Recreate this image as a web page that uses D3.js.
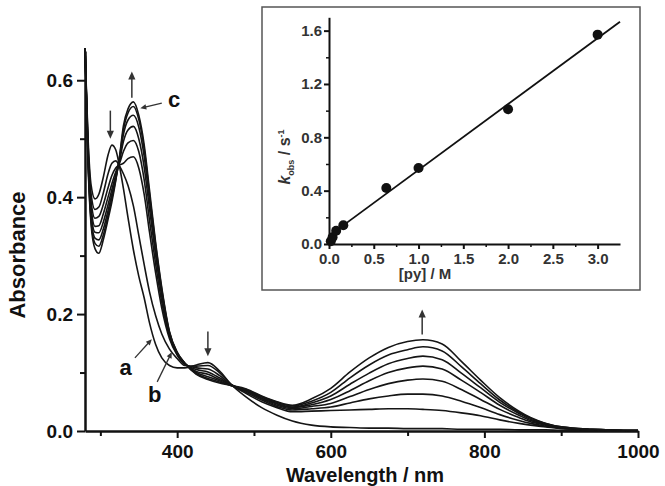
<!DOCTYPE html>
<html>
<head>
<meta charset="utf-8">
<script src="https://cdn.jsdelivr.net/npm/d3@7"></script>
<style>
  body { margin: 0; background: #fff; }
  svg text { font-family: "Liberation Sans", Arial, sans-serif; font-weight: bold; }
</style>
</head>
<body>
<div id="chart"></div>
<script>
// spectra: wavelength grid (nm) and absorbance of each trace, a -> c
const wavelengths = [280, 284, 288, 293, 298, 304, 310, 315, 320, 325, 330, 336, 343, 350, 357, 364, 372, 380, 390, 400,
  410, 425, 440, 455, 470, 490, 510, 530, 550, 575, 600, 625, 650, 675, 700, 720, 745, 770, 795, 820, 845, 860, 880, 900, 940, 1000];

const traceA = [.655, .50, .42, .397, .405, .435, .472, .489, .481, .452, .415, .365, .31, .265, .228, .185, .148, .125, .112, .108,
  .108, .113, .117, .103, .080, .058, .040, .027, .017, .010, .007, .006, .005, .005, .004, .004, .004, .003, .003, .003, .002, .002, .002, .001, .001, 0];
const traceB = [.655, .49, .405, .379, .383, .408, .440, .458, .462, .453, .44, .42, .385, .335, .285, .238, .197, .166, .140, .124,
  .112, .111, .112, .100, .080, .064, .050, .040, .033, .034, .035, .036, .037, .038, .038, .037, .035, .031, .026, .019, .013, .010, .007, .004, .002, 0];
const trace3 = [.655, .48, .392, .364, .367, .388, .416, .437, .450, .455, .458, .466, .469, .45, .405, .34, .27, .21, .158, .130,
  .114, .108, .106, .095, .079, .066, .053, .042, .036, .038, .041, .048, .055, .060, .063, .063, .060, .051, .040, .028, .018, .013, .008, .005, .002, 0];
const trace4 = [.655, .475, .382, .350, .351, .372, .400, .423, .443, .458, .478, .493, .497, .478, .43, .36, .285, .22, .162, .131,
  .115, .105, .101, .091, .079, .068, .055, .044, .038, .042, .047, .059, .071, .081, .087, .089, .085, .071, .054, .037, .023, .016, .010, .005, .002, 0];
const trace5 = [.655, .47, .373, .340, .339, .358, .387, .413, .438, .462, .495, .515, .521, .50, .452, .38, .30, .23, .165, .132,
  .115, .102, .097, .088, .079, .069, .056, .046, .040, .045, .054, .069, .086, .100, .108, .111, .106, .087, .066, .044, .027, .018, .011, .006, .002, 0];
const trace6 = [.655, .465, .365, .330, .327, .346, .377, .405, .433, .465, .507, .532, .540, .52, .47, .395, .31, .237, .167, .133,
  .116, .100, .093, .086, .078, .070, .058, .047, .041, .048, .060, .080, .099, .115, .124, .128, .122, .099, .074, .049, .030, .020, .012, .006, .003, .001];
const trace7 = [.655, .46, .358, .321, .316, .336, .369, .398, .430, .468, .515, .544, .555, .533, .483, .405, .318, .242, .169, .134,
  .116, .098, .090, .084, .078, .071, .059, .049, .043, .051, .066, .091, .113, .130, .139, .144, .137, .110, .081, .053, .032, .022, .013, .007, .003, .001];
const traceC = [.655, .455, .352, .312, .304, .328, .362, .392, .428, .470, .522, .551, .563, .54, .49, .412, .322, .245, .170, .135,
  .116, .097, .088, .082, .078, .072, .060, .050, .044, .055, .073, .101, .125, .143, .153, .156, .149, .119, .087, .057, .034, .023, .013, .007, .003, .001];
const traces = [traceA, traceB, trace3, trace4, trace5, trace6, trace7, traceC];

const xMajor = [400, 600, 800, 1000];
const xMinor = [300, 500, 700, 900];
const yMajor = [0, 0.2, 0.4, 0.6];
const yMinor = [0.1, 0.3, 0.5];

// inset: kobs vs [py]
const pyConc = [0.02, 0.04, 0.08, 0.16, 0.64, 1.0, 2.0, 3.0];
const kObs = [0.02, 0.05, 0.10, 0.14, 0.42, 0.57, 1.01, 1.57];
const fitSlope = 0.494;
const fitIntercept = 0.061;
const insetXMajor = [0, 0.5, 1.0, 1.5, 2.0, 2.5, 3.0];
const insetXMinor = [0.25, 0.75, 1.25, 1.75, 2.25, 2.75];
const insetYMajor = [0, 0.4, 0.8, 1.2, 1.6];
const insetYMinor = [0.2, 0.6, 1.0, 1.4];

// arrows [wavelength, from, to] and labels
const arrows = [[313, 0.548, 0.500], [341, 0.570, 0.615], [440, 0.170, 0.128], [719, 0.165, 0.208]];
const pointers = [
  { text: "c", tx: 388, ty: 0.554, from: [380, 0.561], to: [352, 0.552] },
  { text: "a", tx: 325, ty: 0.096, from: [345, 0.125], to: [367, 0.157] },
  { text: "b", tx: 362, ty: 0.050, from: [374, 0.084], to: [393, 0.135] }
];

const W = 665, H = 486;
const svg = d3.select("#chart").append("svg")
  .attr("width", W).attr("height", H);

const x = d3.scaleLinear().domain([280, 1000]).range([85, 638]);
const y = d3.scaleLinear().domain([0, 0.65]).range([431, 51]);

function styleAxis(g, fs) {
  g.select(".domain").attr("stroke", "#111").attr("stroke-width", 2.5);
  g.selectAll(".tick line").attr("stroke", "#111").attr("stroke-width", 2);
  g.selectAll(".tick text").attr("fill", "#111").style("font-size", fs + "px");
}

// main axes
svg.append("g").attr("transform", "translate(0,431)")
  .call(d3.axisBottom(x).tickValues(xMinor).tickFormat("").tickSize(5).tickSizeOuter(0))
  .call(g => { styleAxis(g, 19); g.select(".domain").remove(); });
svg.append("g").attr("transform", "translate(85,0)")
  .call(d3.axisLeft(y).tickValues(yMinor).tickFormat("").tickSize(5).tickSizeOuter(0))
  .call(g => { styleAxis(g, 19); g.select(".domain").remove(); });
svg.append("g").attr("transform", "translate(0,431)")
  .call(d3.axisBottom(x).tickValues(xMajor).tickFormat(d3.format("d")).tickSize(7).tickPadding(7).tickSizeOuter(0))
  .call(g => styleAxis(g, 19));
svg.append("g").attr("transform", "translate(85,0)")
  .call(d3.axisLeft(y).tickValues(yMajor).tickFormat(d3.format(".1f")).tickSize(8).tickPadding(4).tickSizeOuter(0))
  .call(g => styleAxis(g, 19));

svg.append("text")
  .attr("transform", "translate(25,255) rotate(-90)")
  .attr("text-anchor", "middle").style("font-size", "22px").attr("fill", "#111")
  .text("Absorbance");
svg.append("text")
  .attr("x", 365).attr("y", 482)
  .attr("text-anchor", "middle").style("font-size", "20px").attr("fill", "#111")
  .text("Wavelength / nm");

// spectra
const line = d3.line()
  .x((d, i) => x(wavelengths[i]))
  .y(d => y(d))
  .curve(d3.curveMonotoneX);

svg.append("g").selectAll("path")
  .data(traces)
  .join("path")
  .attr("d", line)
  .attr("fill", "none")
  .attr("stroke", "#151515")
  .attr("stroke-width", 1.6);

// arrows
function arrow(x1, y1, x2, y2, head, color, w) {
  const ang = Math.atan2(y2 - y1, x2 - x1);
  svg.append("line")
    .attr("x1", x1).attr("y1", y1)
    .attr("x2", x2 - Math.cos(ang) * head * 0.8).attr("y2", y2 - Math.sin(ang) * head * 0.8)
    .attr("stroke", color).attr("stroke-width", w);
  const p = [
    [x2, y2],
    [x2 - head * Math.cos(ang) + head * 0.45 * Math.sin(ang), y2 - head * Math.sin(ang) - head * 0.45 * Math.cos(ang)],
    [x2 - head * Math.cos(ang) - head * 0.45 * Math.sin(ang), y2 - head * Math.sin(ang) + head * 0.45 * Math.cos(ang)]
  ];
  svg.append("path").attr("d", "M" + p.join("L") + "Z").attr("fill", color);
}

arrows.forEach(a => arrow(x(a[0]), y(a[1]), x(a[0]), y(a[2]), 8, "#333", 1.5));
pointers.forEach(p => {
  arrow(x(p.from[0]), y(p.from[1]), x(p.to[0]), y(p.to[1]), 6, "#333", 1.3);
  svg.append("text")
    .attr("x", x(p.tx)).attr("y", y(p.ty))
    .style("font-size", "22px").attr("fill", "#111")
    .text(p.text);
});

// inset
svg.append("rect")
  .attr("x", 262).attr("y", 7).attr("width", 378).attr("height", 283)
  .attr("fill", "#fff").attr("stroke", "#555").attr("stroke-width", 1.5);

const ix = d3.scaleLinear().domain([0, 3.25]).range([329, 620]);
const iy = d3.scaleLinear().domain([0, 1.7]).range([244, 17.3]);

svg.append("g").attr("transform", "translate(0,244)")
  .call(d3.axisBottom(ix).tickValues(insetXMinor).tickFormat("").tickSize(3).tickSizeOuter(0))
  .call(g => { styleAxis(g, 15); g.select(".domain").remove(); g.selectAll(".tick line").attr("stroke-width", 1.5); });
svg.append("g").attr("transform", "translate(329,0)")
  .call(d3.axisLeft(iy).tickValues(insetYMinor).tickFormat("").tickSize(3).tickSizeOuter(0))
  .call(g => { styleAxis(g, 15); g.select(".domain").remove(); g.selectAll(".tick line").attr("stroke-width", 1.5); });
svg.append("g").attr("transform", "translate(0,244)")
  .call(d3.axisBottom(ix).tickValues(insetXMajor).tickFormat(d3.format(".1f")).tickSize(5).tickPadding(4).tickSizeOuter(0))
  .call(g => { styleAxis(g, 15); g.select(".domain").attr("stroke-width", 2); g.selectAll(".tick text").attr("fill", "#333"); });
svg.append("g").attr("transform", "translate(329,0)")
  .call(d3.axisLeft(iy).tickValues(insetYMajor).tickFormat(d3.format(".1f")).tickSize(5).tickPadding(2).tickSizeOuter(0))
  .call(g => { styleAxis(g, 15); g.select(".domain").attr("stroke-width", 2); g.selectAll(".tick text").attr("fill", "#333"); });

svg.append("line")
  .attr("x1", ix(0)).attr("y1", iy(fitIntercept))
  .attr("x2", ix(3.25)).attr("y2", iy(fitIntercept + fitSlope * 3.25))
  .attr("stroke", "#111").attr("stroke-width", 1.8);

svg.append("g").selectAll("circle")
  .data(pyConc)
  .join("circle")
  .attr("cx", d => ix(d))
  .attr("cy", (d, i) => iy(kObs[i]))
  .attr("r", 5)
  .attr("fill", "#111");

svg.append("text")
  .attr("x", 425).attr("y", 279)
  .attr("text-anchor", "middle").style("font-size", "15px").attr("fill", "#333")
  .text("[py] / M");

const ky = svg.append("text")
  .attr("transform", "translate(290,157) rotate(-90)")
  .attr("text-anchor", "middle").style("font-size", "16px").attr("fill", "#333");
ky.append("tspan").style("font-style", "italic").text("k");
ky.append("tspan").attr("dy", 4).style("font-size", "9px").text("obs");
ky.append("tspan").attr("dy", -4).text(" / s");
ky.append("tspan").attr("dy", -6).style("font-size", "9px").text("-1");
</script>
</body>
</html>
